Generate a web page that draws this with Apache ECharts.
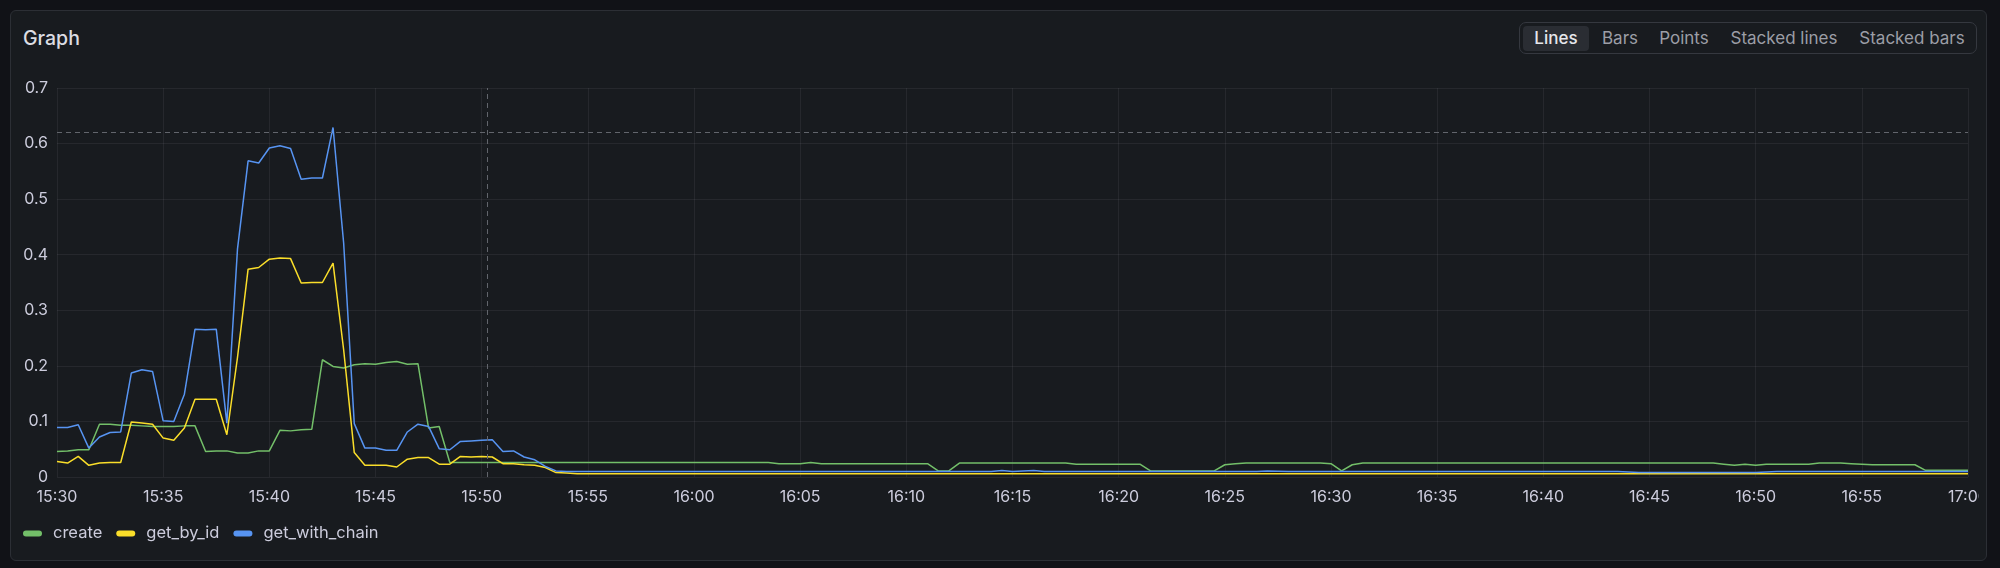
<!DOCTYPE html>
<html>
<head>
<meta charset="utf-8">
<script src="https://cdn.jsdelivr.net/npm/echarts@6/dist/echarts.min.js"></script>
<style>
  html, body { margin: 0; padding: 0; }
  body { width: 2000px; height: 568px; background: #111217; overflow: hidden; position: relative; font-family: Inter, "Noto Sans", sans-serif; }
  .panel { position: absolute; left: 10px; top: 10px; width: 1975px; height: 549px; background: #181b1f; border: 1px solid #2c2f35; border-radius: 6px; }
  .title { position: absolute; left: 23px; top: 25px; font-size: 19.5px; font-weight: 500; color: #dcdde3; line-height: 26px; }
  .btns { position: absolute; left: 1519px; top: 22px; width: 456px; height: 30px; border: 1px solid #35383f; border-radius: 7px; }
  .btn { position: absolute; top: 3px; height: 25px; line-height: 25px; font-size: 17px; color: #9c9ea6; text-align: center; border-radius: 4px; }
  .btn.sel { background: #2a2d33; color: #e6e7ec; font-weight: 500; }
  #chart { position: absolute; left: 0; top: 0; width: 1979px; height: 568px; }
</style>
</head>
<body>
<div class="panel"></div>
<div class="title">Graph</div>
<div class="btns">
  <div class="btn sel" style="left:3px;width:66px;">Lines</div>
  <div class="btn" style="left:74px;width:52px;">Bars</div>
  <div class="btn" style="left:133px;width:62px;">Points</div>
  <div class="btn" style="left:203px;width:122px;">Stacked lines</div>
  <div class="btn" style="left:333px;width:118px;">Stacked bars</div>
</div>
<div id="chart"></div>
<script>
// x tick labels (every 5 minutes, 15:30 .. 17:00)
const xTickLabels = ['15:30','15:35','15:40','15:45','15:50','15:55','16:00','16:05','16:10','16:15',
                     '16:20','16:25','16:30','16:35','16:40','16:45','16:50','16:55','17:00'];
const yTickLabels = ['0','0.1','0.2','0.3','0.4','0.5','0.6','0.7'];
const seriesNames = ['create','get_by_id','get_with_chain'];
const sampleStepMinutes = 0.5; // one sample every 30 s starting 15:30

const createValues = [
  0.046,0.047,0.049,0.049,0.095,0.095,0.093,0.093,0.092,0.091,
  0.091,0.091,0.092,0.092,0.046,0.047,0.047,0.043,0.043,0.047,
  0.047,0.084,0.083,0.085,0.086,0.211,0.199,0.196,0.202,0.204,
  0.203,0.206,0.208,0.203,0.204,0.088,0.091,0.026,0.026,0.026,
  0.026,0.026,0.026,0.026,0.026,0.026,0.026,0.026,0.026,0.026,
  0.026,0.026,0.026,0.026,0.026,0.026,0.026,0.026,0.026,0.026,
  0.026,0.026,0.026,0.026,0.026,0.026,0.026,0.026,0.024,0.024,
  0.024,0.026,0.024,0.024,0.024,0.024,0.024,0.024,0.024,0.024,
  0.024,0.024,0.024,0.011,0.011,0.025,0.025,0.025,0.025,0.025,
  0.025,0.025,0.025,0.025,0.025,0.025,0.023,0.023,0.023,0.023,
  0.023,0.023,0.023,0.011,0.011,0.011,0.011,0.011,0.011,0.011,
  0.022,0.024,0.025,0.025,0.025,0.025,0.025,0.025,0.025,0.025,
  0.024,0.011,0.022,0.025,0.025,0.025,0.025,0.025,0.025,0.025,
  0.025,0.025,0.025,0.025,0.025,0.025,0.025,0.025,0.025,0.025,
  0.025,0.025,0.025,0.025,0.025,0.025,0.025,0.025,0.025,0.025,
  0.025,0.025,0.025,0.025,0.025,0.025,0.025,0.023,0.021,0.023,
  0.021,0.023,0.023,0.023,0.023,0.023,0.025,0.025,0.025,0.024,
  0.023,0.022,0.022,0.022,0.022,0.022,0.012,0.012,0.012,0.012,
  0.012
];
const getByIdValues = [
  0.028,0.025,0.037,0.021,0.025,0.026,0.026,0.099,0.097,0.095,
  0.070,0.066,0.088,0.140,0.140,0.140,0.076,0.215,0.374,0.377,
  0.392,0.394,0.393,0.349,0.350,0.350,0.385,0.229,0.044,0.021,
  0.021,0.021,0.018,0.032,0.035,0.035,0.023,0.023,0.037,0.036,
  0.037,0.036,0.024,0.024,0.022,0.021,0.017,0.008,0.007,0.006,
  0.006,0.006,0.006,0.006,0.006,0.006,0.006,0.006,0.006,0.006,
  0.006,0.006,0.006,0.006,0.006,0.006,0.006,0.006,0.006,0.006,
  0.006,0.006,0.006,0.006,0.006,0.006,0.006,0.006,0.006,0.006,
  0.006,0.006,0.006,0.006,0.006,0.006,0.006,0.006,0.006,0.006,
  0.006,0.006,0.006,0.006,0.006,0.006,0.006,0.006,0.006,0.006,
  0.006,0.006,0.006,0.006,0.006,0.006,0.006,0.006,0.006,0.006,
  0.006,0.006,0.006,0.006,0.006,0.006,0.006,0.006,0.006,0.006,
  0.006,0.006,0.006,0.006,0.006,0.006,0.006,0.006,0.006,0.006,
  0.006,0.006,0.006,0.006,0.006,0.006,0.006,0.006,0.006,0.006,
  0.006,0.006,0.006,0.006,0.006,0.006,0.006,0.006,0.006,0.006,
  0.006,0.006,0.006,0.006,0.006,0.006,0.006,0.006,0.006,0.006,
  0.006,0.006,0.006,0.006,0.006,0.006,0.006,0.006,0.006,0.006,
  0.006,0.006,0.006,0.006,0.006,0.006,0.006,0.006,0.006,0.006,
  0.006
];
const getWithChainValues = [
  0.089,0.089,0.094,0.052,0.072,0.080,0.081,0.187,0.193,0.190,
  0.101,0.100,0.149,0.266,0.265,0.266,0.097,0.410,0.569,0.565,
  0.592,0.596,0.591,0.536,0.538,0.538,0.629,0.421,0.096,0.052,
  0.052,0.048,0.048,0.081,0.095,0.091,0.051,0.049,0.064,0.065,
  0.066,0.067,0.046,0.047,0.036,0.031,0.019,0.011,0.010,0.010,
  0.010,0.010,0.010,0.010,0.010,0.010,0.010,0.010,0.010,0.010,
  0.010,0.010,0.010,0.010,0.010,0.010,0.010,0.010,0.010,0.010,
  0.010,0.010,0.010,0.010,0.010,0.010,0.010,0.010,0.010,0.010,
  0.010,0.010,0.010,0.010,0.010,0.010,0.010,0.010,0.010,0.0115,
  0.010,0.011,0.0115,0.010,0.010,0.010,0.010,0.010,0.010,0.010,
  0.010,0.010,0.010,0.010,0.010,0.010,0.010,0.010,0.010,0.010,
  0.010,0.010,0.010,0.010,0.011,0.0105,0.010,0.010,0.010,0.010,
  0.010,0.010,0.010,0.010,0.010,0.010,0.010,0.010,0.010,0.010,
  0.010,0.010,0.010,0.010,0.010,0.010,0.010,0.010,0.010,0.010,
  0.010,0.010,0.010,0.010,0.010,0.010,0.010,0.010,0.009,0.008,
  0.008,0.008,0.008,0.008,0.008,0.008,0.008,0.008,0.008,0.008,
  0.008,0.009,0.010,0.010,0.010,0.010,0.010,0.010,0.010,0.010,
  0.010,0.010,0.010,0.010,0.010,0.010,0.010,0.010,0.010,0.010,
  0.010
];
// hover crosshair position (minutes after 15:30, value)
const crosshairX = 20.27;
const crosshairY = 0.619;

const seriesColors = ['#73bf69', '#fade2a', '#5794f2'];
const seriesValues = [createValues, getByIdValues, getWithChainValues];

const toPairs = vals => vals.map((v, i) => [i * sampleStepMinutes, v]);

const chart = echarts.init(document.getElementById('chart'), null, { renderer: 'canvas' });
const textColor = '#ccccdc';
const gridColor = 'rgba(204,204,220,0.08)';
const fontFamily = 'Inter, "Noto Sans", sans-serif';

chart.setOption({
  animation: false,
  backgroundColor: 'transparent',
  textStyle: { fontFamily: fontFamily },
  grid: { left: 57, right: 11, top: 88, bottom: 91, containLabel: false, outerBoundsMode: 'none' },
  legend: {
    left: 18, top: 520, padding: 5,
    itemWidth: 19, itemHeight: 6, itemGap: 14,
    icon: 'path://M3,0 L16,0 A3,3 0 0 1 16,6 L3,6 A3,3 0 0 1 3,0 Z',
    textStyle: { color: textColor, fontSize: 16.5, fontFamily: fontFamily, padding: [0, 0, 0, 6] },
    data: seriesNames
  },
  xAxis: {
    type: 'value', min: 0, max: 90, interval: 5,
    axisLine: { show: false }, axisTick: { show: false },
    splitLine: { show: true, lineStyle: { color: gridColor, width: 1 } },
    axisLabel: {
      color: textColor, fontSize: 16, margin: 12, fontFamily: fontFamily,
      showMaxLabel: true, showMinLabel: true, hideOverlap: false,
      formatter: v => xTickLabels[Math.round(v / 5)]
    }
  },
  yAxis: {
    type: 'value', min: 0, max: 0.7, interval: 0.1,
    axisLine: { show: false }, axisTick: { show: false },
    splitLine: { show: true, lineStyle: { color: gridColor, width: 1 } },
    axisLabel: {
      color: textColor, fontSize: 16, margin: 9, fontFamily: fontFamily,
      formatter: v => yTickLabels[Math.round(v * 10)]
    }
  },
  series: seriesNames.map((name, i) => ({
    name: name,
    type: 'line',
    data: toPairs(seriesValues[i]),
    showSymbol: false,
    symbol: 'none',
    color: seriesColors[i],
    lineStyle: { color: seriesColors[i], width: 1.5 },
    z: 2 + i,
    markLine: i === 2 ? {
      silent: true,
      symbol: ['none', 'none'],
      label: { show: false },
      lineStyle: { color: '#62656c', type: [5, 4], width: 1 },
      data: [{ xAxis: crosshairX }, { yAxis: crosshairY }]
    } : undefined
  }))
});
</script>
</body>
</html>
